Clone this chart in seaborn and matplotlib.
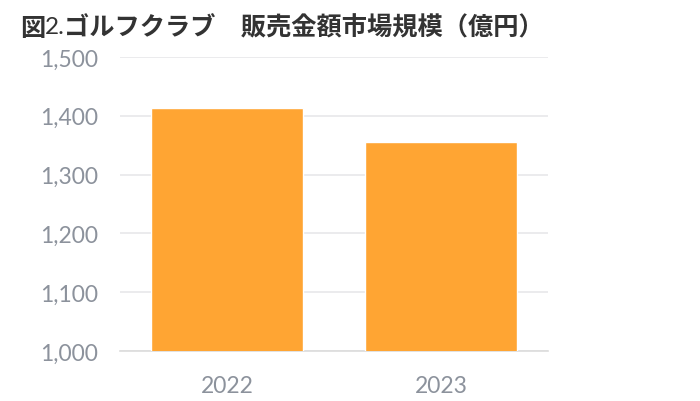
import matplotlib
matplotlib.use("Agg")
import matplotlib.pyplot as plt
import seaborn as sns
import pandas as pd

# données
years = ["2022", "2023"]
sales = [1414, 1356]
y_ticks = [1000, 1100, 1200, 1300, 1400, 1500]

df = pd.DataFrame({"year": years, "sales": sales})

sns.set_style("white")
plt.rcParams["font.family"] = ["Lato", "Noto Sans CJK JP", "DejaVu Sans"]

fig = plt.figure(figsize=(7.0, 4.02), dpi=100)
ax = fig.add_axes([0.1714, 0.1244, 0.6115, 0.7313])

sns.barplot(data=df, x="year", y="sales", color="#FFA533", saturation=1,
            width=0.714, ax=ax, zorder=3)

ax.set_ylim(1000, 1500)
ax.set_xlim(-0.5, 1.5)
ax.set_yticks(y_ticks)
ax.set_yticklabels([f"{v:,}" for v in y_ticks])
ax.grid(True, axis="y", color="#e8e8ea", linewidth=1.2, zorder=0)
ax.set_xlabel("")
ax.set_ylabel("")
for s in ["top", "right", "left"]:
    ax.spines[s].set_visible(False)
ax.spines["bottom"].set_color("#dcdcdc")
ax.spines["bottom"].set_linewidth(1.2)
ax.tick_params(axis="both", length=0, labelsize=16.5, labelcolor="#8c929c")
ax.tick_params(axis="y", pad=16)
ax.tick_params(axis="x", pad=17)
for lab in ax.get_xticklabels() + ax.get_yticklabels():
    lab.set_fontfamily("Lato")

# titre
ty = 1 - 28 / 402
fig.text(20 / 700, ty, "図", fontsize=18.2, fontweight="bold",
         family=["Noto Sans CJK JP"], color="#333333", va="center")
fig.text(44.5 / 700, ty, "2.", fontsize=17.5, family=["Lato"],
         color="#333333", va="center")
fig.text(63.5 / 700, ty, "ゴルフクラブ　販売金額市場規模（億円）", fontsize=18.2,
         fontweight="bold", family=["Noto Sans CJK JP"], color="#333333", va="center")

plt.savefig("out.png", dpi=100)
